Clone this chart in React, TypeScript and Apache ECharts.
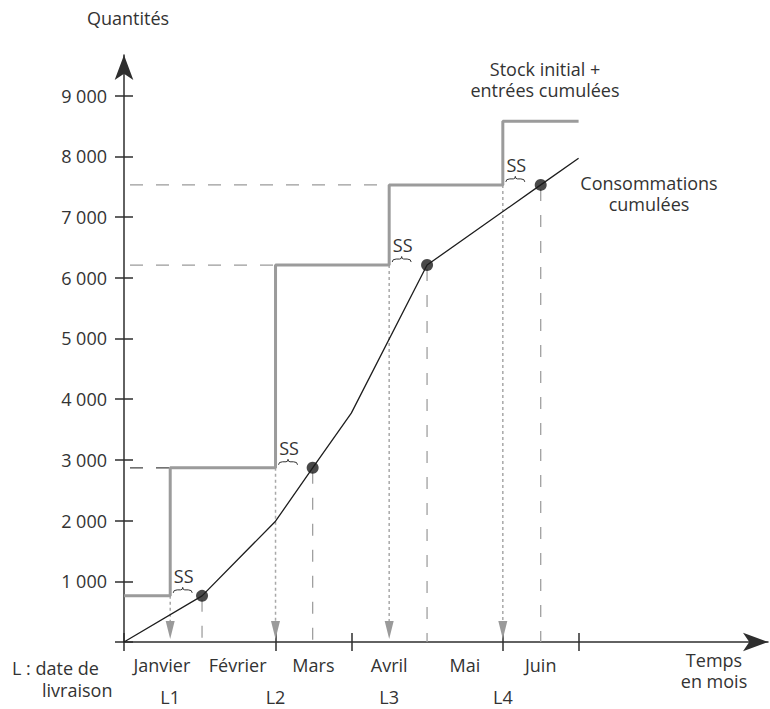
import React, { useEffect, useRef } from 'react';
import * as echarts from 'echarts';

const months = ['Janvier', 'Février', 'Mars', 'Avril', 'Mai', 'Juin'];
const deliveryLabels = ['L1', 'L2', 'L3', 'L4'];
const yTickValues = [0, 1000, 2000, 3000, 4000, 5000, 6000, 7000, 8000, 9000];
const xTickMonths = [0, 2, 3, 5, 6];
// delivery dates (months) and stock level (initial stock + cumulated entries)
const deliveryMonths = [0.61, 2.0, 3.5, 5.0];
const stockLevels = [760, 2870, 6210, 7530, 8580];
const stockEndMonth = 6.0;
// cumulated consumption
const consMonths = [0, 1.03, 2.0, 2.49, 3.0, 4.0, 5.5, 6.0];
const consValues = [0, 760, 1990, 2870, 3770, 6210, 7530, 7970];
// months where consumption reaches the stock level before each delivery
const stockoutMonths = [1.03, 2.49, 4.0, 5.5];
// guide lines colours (style)
const guideColors = ['#444', '#9a9a9a', '#9a9a9a'];

const FONT = "'Open Sans', sans-serif";
const TXT = '#333';
const AX = '#2e2e2e';
const X_MAX = 8.5;
const Y_MAX = 9670;

function txt(text: string, x: number, y: number, align: string, lineHeight = 21) {
  return {
    type: 'text', x, y,
    style: {
      text, fill: TXT, fontSize: 18, fontFamily: FONT, lineHeight,
      align, verticalAlign: 'middle', textAlign: align, textVerticalAlign: 'middle',
    },
  };
}

export default function App() {
  const ref = useRef<HTMLDivElement>(null);
  useEffect(() => {
    const chart = echarts.init(ref.current!, null, { renderer: 'svg' });

    const stockPts: number[][] = [[0, stockLevels[0]]];
    deliveryMonths.forEach((d, i) => stockPts.push([d, stockLevels[i + 1]]));
    stockPts.push([stockEndMonth, stockLevels[stockLevels.length - 1]]);
    const consPts = consMonths.map((m, i) => [m, consValues[i]]);
    const dotPts = stockoutMonths.map((m, i) => [m, stockLevels[i]]);
    const deliveryPts = deliveryMonths.map((d, i) => [d, stockLevels[i], stockoutMonths[i]]);
    const hGuidePts = deliveryMonths.slice(0, 3).map((d, i) => [d, stockLevels[i + 1], i]);

    const tickStyle = { color: AX, width: 1.5 };
    const labelStyle = { color: TXT, fontSize: 18, fontFamily: FONT };
    const findIdx = (arr: number[], v: number) => arr.findIndex((a) => Math.abs(a - v) < 1e-6);

    const option: any = {
      animation: false,
      backgroundColor: '#fff',
      grid: { left: 124, right: 2, top: 55, bottom: 67 },
      xAxis: [
        {
          type: 'value', min: 0, max: X_MAX, position: 'bottom',
          axisLine: { show: true, onZero: false, symbol: ['none', 'arrow'], symbolSize: [14, 25], lineStyle: { color: AX, width: 1.5 } },
          axisTick: { show: true, customValues: xTickMonths, length: 9, lineStyle: tickStyle },
          axisLabel: {
            ...labelStyle, margin: 14,
            customValues: months.map((_, i) => i + 0.5),
            formatter: (v: number) => months[Math.floor(v)] ?? '',
          },
          splitLine: { show: false },
        },
        {
          type: 'value', min: 0, max: X_MAX, position: 'bottom',
          axisLine: { show: false, onZero: false },
          axisTick: { show: true, inside: true, customValues: xTickMonths, length: 9, lineStyle: tickStyle },
          axisLabel: {
            ...labelStyle, margin: 46, lineHeight: 18,
            customValues: deliveryMonths,
            formatter: (v: number) => deliveryLabels[findIdx(deliveryMonths, v)] ?? '',
          },
          splitLine: { show: false },
        },
      ],
      yAxis: [
        {
          type: 'value', min: 0, max: Y_MAX, position: 'left',
          axisLine: { show: true, onZero: false, symbol: ['none', 'arrow'], symbolSize: [14, 25], lineStyle: { color: AX, width: 1.5 } },
          axisTick: { show: true, customValues: yTickValues, length: 9, lineStyle: tickStyle },
          axisLabel: {
            ...labelStyle, margin: 17,
            customValues: yTickValues.slice(1),
            formatter: (v: number) => String(Math.round(v)).replace(/\B(?=(\d{3})+(?!\d))/g, ' '),
          },
          splitLine: { show: false },
        },
        {
          type: 'value', min: 0, max: Y_MAX, position: 'left',
          axisLine: { show: false, onZero: false },
          axisTick: { show: true, inside: true, customValues: yTickValues, length: 9, lineStyle: tickStyle },
          axisLabel: { show: false },
          splitLine: { show: false },
        },
      ],
      graphic: [
        txt('Quantités', 128, 18, 'center'),
        txt('L : date de', 12, 668, 'left'),
        txt('livraison', 42, 690, 'left'),
        txt('Temps\nen mois', 714, 670, 'center'),
        txt('Stock initial +\nentrées cumulées', 545, 79, 'center'),
        txt('Consommations\ncumulées', 649, 193, 'center'),
      ],
      series: [
        {
          // horizontal dashed guides from the Y axis to each delivery level
          type: 'custom', coordinateSystem: 'cartesian2d', z: 1, silent: true,
          data: hGuidePts,
          renderItem: (params: any, api: any) => {
            const end = api.coord([api.value(0), api.value(1)]);
            const start = api.coord([0, api.value(1)]);
            const idx = api.value(2);
            return {
              type: 'line',
              shape: { x1: start[0] + 6, y1: end[1], x2: end[0], y2: end[1] },
              style: { stroke: guideColors[idx] || '#9a9a9a', lineWidth: 1.3, lineDash: [13, 13] },
            };
          },
        },
        {
          // delivery dotted lines with arrows + dashed lines from stockout points
          type: 'custom', coordinateSystem: 'cartesian2d', z: 2, silent: true,
          data: deliveryPts,
          renderItem: (params: any, api: any) => {
            const top = api.coord([api.value(0), api.value(1)]);
            const bot = api.coord([api.value(0), 0]);
            const dTop = api.coord([api.value(2), api.value(1)]);
            const dBot = api.coord([api.value(2), 0]);
            return {
              type: 'group',
              children: [
                { type: 'line', shape: { x1: top[0], y1: top[1], x2: bot[0], y2: bot[1] - 16 }, style: { stroke: '#a8a8a8', lineWidth: 1.5, lineDash: [3, 3] } },
                { type: 'polygon', shape: { points: [[bot[0] - 4.5, bot[1] - 21], [bot[0] + 4.5, bot[1] - 21], [bot[0], bot[1] - 3]] }, style: { fill: '#9a9a9a' } },
                { type: 'line', shape: { x1: dTop[0], y1: dTop[1] + 4, x2: dBot[0], y2: dBot[1] }, style: { stroke: '#a0a0a0', lineWidth: 1.3, lineDash: [12, 14] } },
              ],
            };
          },
        },
        {
          name: 'Stock initial + entrées cumulées',
          type: 'line', step: 'end', data: stockPts, symbol: 'none', z: 3,
          lineStyle: { color: '#9b9b9b', width: 3 },
        },
        {
          name: 'Consommations cumulées',
          type: 'line', data: consPts, symbol: 'none', z: 4,
          lineStyle: { color: '#1e1e1e', width: 1.3 },
        },
        {
          type: 'scatter', data: dotPts, symbolSize: 12, z: 5,
          itemStyle: { color: '#1c1c1c' },
        },
        {
          // SS braces
          type: 'custom', coordinateSystem: 'cartesian2d', z: 6, silent: true,
          data: deliveryPts,
          renderItem: (params: any, api: any) => {
            const p = api.coord([api.value(0), api.value(1)]);
            const bx = p[0] + 3;
            const by = p[1] - 3;
            const d = `M${bx},${by} Q${bx},${by - 3} ${bx + 4},${by - 3} L${bx + 7.5},${by - 3} Q${bx + 9.5},${by - 3} ${bx + 9.5},${by - 5.5} Q${bx + 9.5},${by - 3} ${bx + 11.5},${by - 3} L${bx + 15},${by - 3} Q${bx + 19},${by - 3} ${bx + 19},${by}`;
            return {
              type: 'group',
              children: [
                { type: 'path', shape: { pathData: d }, style: { stroke: '#333', fill: 'none', lineWidth: 1 } },
                { type: 'text', style: { text: 'SS', x: bx + 10.5, y: p[1] - 20, fill: TXT, fontSize: 18, fontFamily: FONT, align: 'center', verticalAlign: 'middle' } },
              ],
            };
          },
        },
      ],
    };
    chart.setOption(option);
    return () => chart.dispose();
  }, []);
  return <div ref={ref} style={{ position: 'fixed', left: 0, top: 0, width: 770, height: 709, background: '#fff' }} />;
}
